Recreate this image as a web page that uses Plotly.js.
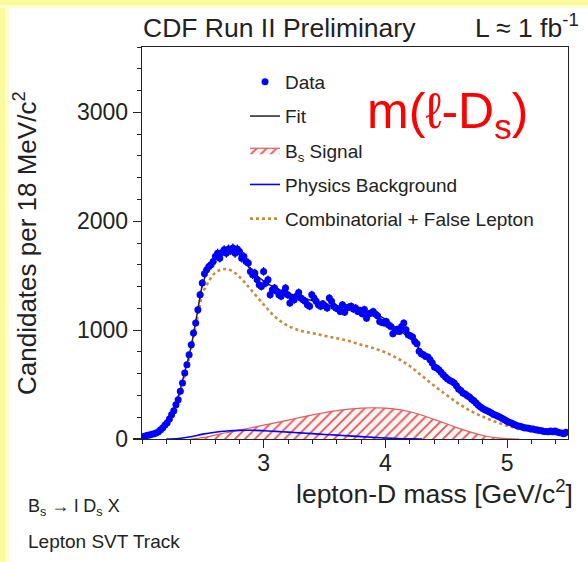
<!DOCTYPE html>
<html>
<head>
<meta charset="utf-8">
<script src="https://cdn.plot.ly/plotly-3.0.1.min.js"></script>
<style>html,body{margin:0;padding:0;background:#fff;}#chart{width:588px;height:562px;}</style>
</head>
<body>
<div id="chart"></div>
<script>
// ---- Data: lepton-D mass histogram, 18 MeV bins starting at 2.0 GeV/c^2 ----
const binStart = 2.0;
const binWidth = 0.018;
const counts = [
  21, 28, 34, 37, 43, 49, 55, 67, 86, 104,
  128, 150, 184, 223, 260, 315, 361, 438, 514, 606,
  682, 774, 866, 973, 1065, 1187, 1325, 1432, 1518, 1554,
  1585, 1600, 1631, 1677, 1707, 1661, 1713, 1738, 1707, 1744,
  1732, 1753, 1707, 1744, 1723, 1661, 1677, 1631, 1616, 1539,
  1509, 1524, 1463, 1417, 1401, 1539, 1432, 1463, 1325, 1371,
  1386, 1356, 1325, 1310, 1346, 1386, 1325, 1248, 1294, 1279,
  1310, 1346, 1294, 1279, 1264, 1233, 1218, 1325, 1294, 1264,
  1233, 1218, 1242, 1224, 1203, 1294, 1264, 1218, 1203, 1193,
  1172, 1233, 1163, 1203, 1212, 1218, 1193, 1203, 1172, 1180,
  1150, 1190, 1110, 1150, 1156, 1171, 1147, 1132, 1080, 1071,
  1065, 1080, 1049, 1034, 966, 988, 1009, 988, 1034, 1065,
  1003, 957, 948, 936, 896, 875, 805, 783, 774, 758,
  752, 728, 697, 661, 652, 636, 612, 590, 569, 551,
  538, 529, 514, 489, 459, 445, 422, 413, 398, 385,
  365, 352, 330, 310, 293, 281, 269, 260, 251, 238,
  226, 217, 208, 199, 189, 177, 165, 153, 147, 137,
  128, 119, 116, 110, 104, 101, 98, 91, 91, 85,
  82, 79, 76, 70, 70, 67, 73, 67, 73, 64,
  58, 55, 49, 61
];
const binCenters = counts.map((_, i) => +(binStart + binWidth * (i + 0.5)).toFixed(4));

// Fit (total)
const fitMass = [2.0, 2.05, 2.1, 2.15, 2.2, 2.25, 2.3, 2.35, 2.4, 2.45, 2.5, 2.55, 2.6, 2.65, 2.7, 2.75, 2.8, 2.85, 2.9, 3.0, 3.1, 3.2, 3.3, 3.4, 3.5, 3.6, 3.7, 3.8, 3.9, 4.0, 4.1, 4.2, 4.3, 4.4, 4.5, 4.6, 4.7, 4.8, 4.9, 5.0, 5.1, 5.2, 5.3, 5.4, 5.5];
const fitVals = [20, 30, 48, 80, 140, 245, 400, 610, 830, 1130, 1430, 1570, 1650, 1705, 1730, 1725, 1690, 1620, 1550, 1450, 1385, 1340, 1305, 1270, 1240, 1215, 1200, 1180, 1155, 1100, 1010, 925, 800, 670, 565, 465, 385, 300, 230, 170, 125, 95, 78, 66, 58];

// Combinatorial + False Lepton
const combMass = [2.0, 2.05, 2.1, 2.15, 2.2, 2.25, 2.3, 2.35, 2.4, 2.45, 2.5, 2.55, 2.6, 2.65, 2.7, 2.75, 2.8, 2.85, 2.9, 3.0, 3.1, 3.2, 3.3, 3.4, 3.5, 3.6, 3.7, 3.8, 3.9, 4.0, 4.1, 4.2, 4.3, 4.4, 4.5, 4.6, 4.7, 4.8, 4.9, 5.0, 5.1, 5.2, 5.3, 5.4, 5.5];
const combVals = [18, 28, 45, 75, 130, 230, 380, 575, 810, 1080, 1340, 1450, 1525, 1555, 1560, 1535, 1490, 1430, 1365, 1235, 1115, 1040, 995, 972, 948, 925, 900, 866, 835, 795, 740, 670, 580, 490, 405, 325, 258, 205, 160, 122, 92, 70, 55, 45, 38];

// Bs Signal
const sigMass = [2.4, 2.5, 2.6, 2.7, 2.8, 2.9, 3.0, 3.1, 3.2, 3.3, 3.4, 3.5, 3.6, 3.7, 3.8, 3.9, 4.0, 4.1, 4.2, 4.3, 4.4, 4.5, 4.6, 4.7, 4.8, 4.9, 5.0, 5.1];
const sigVals = [0, 12, 35, 60, 82, 104, 127, 150, 174, 198, 222, 243, 261, 274, 283, 287, 284, 272, 250, 218, 180, 140, 100, 63, 32, 12, 3, 0];

// Physics Background
const physMass = [2.2, 2.3, 2.4, 2.5, 2.6, 2.7, 2.8, 2.9, 3.0, 3.1, 3.2, 3.3, 3.4, 3.5, 3.6, 3.7, 3.8, 3.9, 4.0, 4.1, 4.2, 4.3];
const physVals = [0, 5, 20, 45, 62, 73, 79, 80, 76, 70, 63, 56, 49, 42, 36, 29, 22, 15, 9, 4, 1, 0];

const xTicks = [3, 4, 5];
const yTicks = [0, 1000, 2000, 3000];

// ---- Helpers: pixel -> paper coordinates ----
const W = 588, H = 562, ML = 142, MR = 20, MT = 47, MB = 123;
const PW = W - ML - MR, PH = H - MT - MB;
const px = v => (v - ML) / PW;
const py = v => (H - MB - v) / PH;

const FONT = 'Liberation Sans, Arial, Helvetica, sans-serif';

const traces = [
  {
    x: sigMass, y: sigVals, type: 'scatter', mode: 'lines', name: 'B<sub>s</sub> Signal',
    line: {color: '#d96060', width: 1.2, shape: 'spline'},
    fill: 'tozeroy', fillcolor: 'rgba(255,255,255,0)',
    fillpattern: {shape: '/', fgcolor: '#e05555', bgcolor: '#fff4f4', size: 7, solidity: 0.25},
    legendgroup: 'g3', legendrank: 3
  },
  {
    x: physMass, y: physVals, type: 'scatter', mode: 'lines', name: 'Physics Background',
    line: {color: '#0000ff', width: 1.6, shape: 'spline'},
    legendgroup: 'g4', legendrank: 4
  },
  {
    x: combMass, y: combVals, type: 'scatter', mode: 'lines', name: 'Combinatorial + False Lepton',
    line: {color: '#c98a3c', width: 2.6, dash: 'dot', shape: 'spline'},
    legendgroup: 'g5', legendrank: 5
  },
  {
    x: fitMass, y: fitVals, type: 'scatter', mode: 'lines', name: 'Fit',
    line: {color: '#222222', width: 1.5, shape: 'spline'},
    legendgroup: 'g2', legendrank: 2
  },
  {
    x: binCenters, y: counts, type: 'scatter', mode: 'markers', name: 'Data',
    marker: {color: '#0000ff', size: 7},
    error_y: {type: 'sqrt', color: '#000000', thickness: 1.2, width: 0},
    legendgroup: 'g1', legendrank: 1
  }
];

const layout = {
  width: W, height: H,
  margin: {l: ML, r: MR, t: MT, b: MB, pad: 0},
  paper_bgcolor: '#ffffff', plot_bgcolor: '#ffffff',
  font: {family: FONT, color: '#222222'},
  showlegend: true,
  legend: {
    x: px(245), y: py(63), xanchor: 'left', yanchor: 'top',
    font: {family: FONT, size: 19, color: '#222222'},
    bgcolor: 'rgba(0,0,0,0)', traceorder: 'grouped', tracegroupgap: 6.5,
    itemwidth: 30
  },
  xaxis: {
    range: [2.0, 5.5], tickmode: 'array', tickvals: xTicks, ticktext: xTicks.map(String),
    ticks: 'outside', ticklen: 8, tickwidth: 1.2, tickcolor: '#222', ticklabelstandoff: -5,
    minor: {tickmode: 'linear', tick0: 2.0, dtick: 0.2, ticks: 'outside', ticklen: 4, tickwidth: 1, tickcolor: '#222'},
    showline: true, linecolor: '#222', linewidth: 1.3, mirror: true,
    showgrid: false, zeroline: false,
    tickfont: {family: FONT, size: 23, color: '#222'}
  },
  yaxis: {
    range: [0, 3600], tickmode: 'array', tickvals: yTicks, ticktext: yTicks.map(String),
    ticks: 'outside', ticklen: 8, tickwidth: 1.2, tickcolor: '#222',
    minor: {tickmode: 'linear', tick0: 0, dtick: 200, ticks: 'outside', ticklen: 4, tickwidth: 1, tickcolor: '#222'},
    showline: true, linecolor: '#222', linewidth: 1.3, mirror: true,
    showgrid: false, zeroline: false,
    tickfont: {family: FONT, size: 23, color: '#222'}
  },
  shapes: [
    {type: 'rect', xref: 'paper', yref: 'paper', x0: px(0), x1: px(9), y0: py(H), y1: py(0), fillcolor: '#fdfdd0', line: {width: 0}, layer: 'below'},
    {type: 'rect', xref: 'paper', yref: 'paper', x0: px(0), x1: px(5), y0: py(H), y1: py(0), fillcolor: '#fbfb9c', line: {width: 0}, layer: 'below'},
    {type: 'rect', xref: 'paper', yref: 'paper', x0: px(0), x1: px(W), y0: py(8), y1: py(0), fillcolor: '#fdfdd0', line: {width: 0}, layer: 'below'},
    {type: 'rect', xref: 'paper', yref: 'paper', x0: px(0), x1: px(W), y0: py(5), y1: py(0), fillcolor: '#fbfb9c', line: {width: 0}, layer: 'below'}
  ],
  annotations: [
    {text: 'CDF Run II Preliminary', xref: 'paper', yref: 'paper', x: px(141), y: py(28), xanchor: 'left', yanchor: 'middle', showarrow: false, font: {family: FONT, size: 26.5, color: '#222'}},
    {text: 'L ≈ 1 fb<sup>-1</sup>', xref: 'paper', yref: 'paper', x: px(581), y: py(26), xanchor: 'right', yanchor: 'middle', showarrow: false, font: {family: FONT, size: 26.5, color: '#222'}},
    {text: 'm(ℓ-D<sub>s</sub>)', xref: 'paper', yref: 'paper', x: px(447), y: py(115), xanchor: 'center', yanchor: 'middle', showarrow: false, font: {family: FONT, size: 50, color: '#ff0000'}},
    {text: 'Candidates per 18 MeV/c<sup>2</sup>', xref: 'paper', yref: 'paper', x: px(25), y: py(243), xanchor: 'center', yanchor: 'middle', textangle: -90, showarrow: false, font: {family: FONT, size: 26, color: '#222'}},
    {text: 'lepton-D mass [GeV/c<sup>2</sup>]', xref: 'paper', yref: 'paper', x: px(575), y: py(492), xanchor: 'right', yanchor: 'middle', showarrow: false, font: {family: FONT, size: 26.5, color: '#222'}},
    {text: 'B<sub>s</sub> → l D<sub>s</sub> X', xref: 'paper', yref: 'paper', x: px(26), y: py(507), xanchor: 'left', yanchor: 'middle', showarrow: false, font: {family: FONT, size: 18, color: '#222'}},
    {text: 'Lepton SVT Track', xref: 'paper', yref: 'paper', x: px(26), y: py(541), xanchor: 'left', yanchor: 'middle', showarrow: false, font: {family: FONT, size: 19, color: '#222'}}
  ]
};

Plotly.newPlot('chart', traces, layout, {staticPlot: true, displayModeBar: false});
</script>
</body>
</html>
